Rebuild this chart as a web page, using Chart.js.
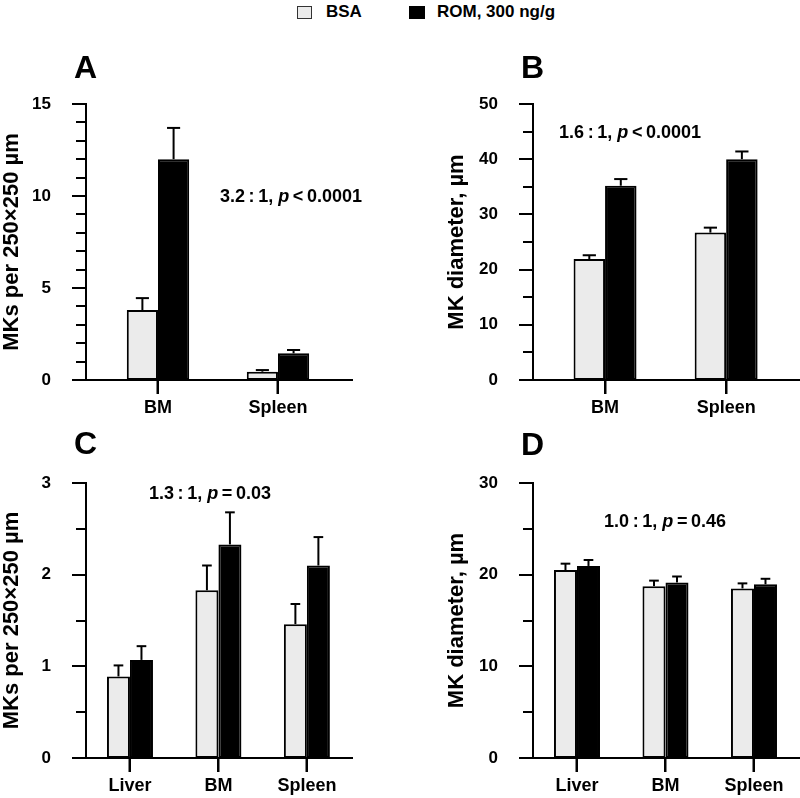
<!DOCTYPE html>
<html lang="en">
<head>
<meta charset="UTF-8" />
<title>Megakaryocyte counts and diameters</title>
<script src="https://cdn.jsdelivr.net/npm/chart.js"></script>
<style>
  body { margin: 0; background: #fff; font-family: "Liberation Sans", Arial, sans-serif; }
  #wrap { position: relative; width: 800px; height: 798px; overflow: hidden; background: #fff; }
  canvas { position: absolute; }
  #cA { left: 0; top: 0; }
  #cB { left: 400px; top: 0; }
  #cC { left: 0; top: 420px; }
  #cD { left: 400px; top: 420px; }
  .legend { position: absolute; top: 2px; height: 20px; display: flex; align-items: center;
            font-weight: bold; font-size: 17px; line-height: 20px; color: #000; }
  .swatch { display: inline-block; width: 15px; height: 13px; margin-right: 14px; box-sizing: border-box; }
</style>
</head>
<body>
<div id="wrap">
  <div class="legend" style="left:297px"><span class="swatch" style="background:#ebebeb;border:1.5px solid #333"></span>BSA</div>
  <div class="legend" style="left:409px"><span class="swatch" style="background:#000;width:16px;margin-right:12px"></span>ROM, 300 ng/g</div>
  <canvas id="cA" width="400" height="420"></canvas>
  <canvas id="cB" width="400" height="420"></canvas>
  <canvas id="cC" width="400" height="378"></canvas>
  <canvas id="cD" width="400" height="378"></canvas>
</div>
<script>
// categories
const catsTop = ["BM", "Spleen"];
const catsBottom = ["Liver", "BM", "Spleen"];

// A: MKs per field
const aBSA = [3.8, 0.45];
const aBSAerr = [0.65, 0.09];
const aROM = [12.0, 1.45];
const aROMerr = [1.7, 0.18];

// B: MK diameter
const bBSA = [21.9, 26.7];
const bBSAerr = [0.7, 0.9];
const bROM = [35.2, 40.0];
const bROMerr = [1.2, 1.4];

// C: MKs per field
const cBSA = [0.89, 1.83, 1.46];
const cBSAerr = [0.12, 0.27, 0.22];
const cROM = [1.07, 2.33, 2.10];
const cROMerr = [0.15, 0.35, 0.31];

// D: MK diameter
const dBSA = [20.5, 18.75, 18.5];
const dBSAerr = [0.7, 0.6, 0.55];
const dROM = [20.95, 19.15, 18.95];
const dROMerr = [0.65, 0.65, 0.6];

const FONT = '"Liberation Sans", Arial, sans-serif';
Chart.defaults.font.family = FONT;
Chart.defaults.color = "#000";

function isMajor(v, major) {
    return Math.abs(v / major - Math.round(v / major)) < 1e-6;
}

function line(ctx, x1, y1, x2, y2) {
    ctx.beginPath();
    ctx.moveTo(x1, y1);
    ctx.lineTo(x2, y2);
    ctx.stroke();
}

function makePanel(id, p) {
    const toPoints = (vals) => vals.map((v, i) => ({ x: i + 1, y: v }));
    const errs = [p.bsaErr, p.romErr];

    // error bars, axis tick marks, panel letter and the ratio / p note
    const extras = {
        id: "extras",
        afterDatasetsDraw(chart) {
            const ctx = chart.ctx;
            const xs = chart.scales.x;
            const ys = chart.scales.y;
            const area = chart.chartArea;
            ctx.save();
            ctx.strokeStyle = "#000";
            ctx.lineWidth = 2;
            chart.data.datasets.forEach((ds, i) => {
                chart.getDatasetMeta(i).data.forEach((bar, j) => {
                    const top = ys.getPixelForValue(ds.data[j].y + errs[i][j]);
                    const half = bar.width * 0.21;
                    line(ctx, bar.x, bar.y, bar.x, top);
                    line(ctx, bar.x - half, top, bar.x + half, top);
                });
            });
            // category tick marks below the x axis
            p.cats.forEach((c, j) => {
                const x = Math.round(xs.getPixelForValue(j + 1));
                line(ctx, x, area.bottom, x, area.bottom + 14);
            });
            // major and minor tick marks left of the y axis
            ys.ticks.forEach((t) => {
                const y = Math.round(ys.getPixelForValue(t.value));
                const len = isMajor(t.value, p.yMajor) ? 14 : 10;
                line(ctx, area.left - len, y, area.left, y);
            });
            ctx.restore();
        },
        afterDraw(chart) {
            const ctx = chart.ctx;
            const xs = chart.scales.x;
            const ys = chart.scales.y;
            const area = chart.chartArea;
            ctx.save();
            ctx.fillStyle = "#000";
            ctx.textBaseline = "alphabetic";
            ctx.textAlign = "left";
            ctx.font = "bold 32px " + FONT;
            ctx.fillText(p.letter, area.left - 12, p.letterY);

            const cx = xs.getPixelForValue(p.noteAt[0]);
            const cy = ys.getPixelForValue(p.noteAt[1]);
            const normal = "bold 18px " + FONT;
            const italic = "italic bold 18px " + FONT;
            const parts = [
                [p.ratio + "\u2009:\u20091, ", normal],
                ["p", italic],
                ["\u2009" + p.op + "\u2009" + p.p, normal],
            ];
            let total = 0;
            parts.forEach((s) => { ctx.font = s[1]; total += ctx.measureText(s[0]).width; });
            let x = cx - total / 2;
            ctx.textBaseline = "middle";
            parts.forEach((s) => {
                ctx.font = s[1];
                ctx.fillText(s[0], x, cy);
                x += ctx.measureText(s[0]).width;
            });
            ctx.restore();
        },
    };

    return new Chart(document.getElementById(id), {
        type: "bar",
        data: {
            datasets: [
                {
                    label: "BSA",
                    data: toPoints(p.bsa),
                    backgroundColor: "#ebebeb",
                    borderColor: "#000",
                    borderWidth: 2,
                    borderSkipped: false,
                },
                {
                    label: "ROM, 300 ng/g",
                    data: toPoints(p.rom),
                    backgroundColor: "#000",
                    borderColor: "#000",
                    borderWidth: 2,
                    borderSkipped: false,
                },
            ],
        },
        options: {
            responsive: false,
            animation: false,
            events: [],
            categoryPercentage: 0.52,
            barPercentage: 1.0,
            layout: { padding: p.pad },
            plugins: {
                legend: { display: false },
                tooltip: { enabled: false },
            },
            scales: {
                x: {
                    type: "linear",
                    min: p.xMin,
                    max: p.xMax,
                    offset: false,
                    afterFit: (s) => { s.height = 40; },
                    grid: {
                        display: true,
                        offset: false,
                        drawOnChartArea: false,
                        drawTicks: true,
                        tickLength: 14,
                        tickWidth: 2,
                        tickColor: "#000",
                        color: "#000",
                    },
                    border: { display: true, color: "#000", width: 2 },
                    ticks: {
                        stepSize: 1,
                        includeBounds: false,
                        autoSkip: false,
                        maxRotation: 0,
                        padding: 3,
                        font: { size: 18, weight: "bold" },
                        callback: (v) => p.cats[v - 1] || "",
                    },
                },
                y: {
                    min: 0,
                    max: p.yMax,
                    afterFit: (s) => { s.width = p.yWidth; },
                    grid: { display: false },
                    border: { display: true, color: "#000", width: 2 },
                    ticks: {
                        stepSize: p.yStep,
                        autoSkip: false,
                        padding: 27,
                        font: { size: 17, weight: "bold" },
                        callback: (v) => (isMajor(v, p.yMajor) ? v : ""),
                    },
                    title: {
                        display: true,
                        text: p.yTitle,
                        padding: { top: p.titlePad, bottom: 0 },
                        font: { size: 22, weight: "bold" },
                    },
                },
            },
        },
        plugins: [extras],
    });
}

makePanel("cA", {
    cats: catsTop, bsa: aBSA, bsaErr: aBSAerr, rom: aROM, romErr: aROMerr,
    xMin: 0.4, xMax: 2.617, yMax: 15, yStep: 1, yMajor: 5,
    yTitle: "MKs per 250\u00d7250 \u00b5m", yWidth: 86, titlePad: -1,
    pad: { top: 104, left: 0, right: 48, bottom: 0 },
    letter: "A", letterY: 78, ratio: "3.2", op: "<", p: "0.0001", noteAt: [2.108, 9.95],
});

makePanel("cB", {
    cats: catsTop, bsa: bBSA, bsaErr: bBSAerr, rom: bROM, romErr: bROMerr,
    xMin: 0.405, xMax: 2.61, yMax: 50, yStep: 5, yMajor: 10,
    yTitle: "MK diameter, \u00b5m", yWidth: 90, titlePad: 1,
    pad: { top: 104, left: 43, right: 0, bottom: 0 },
    letter: "B", letterY: 78, ratio: "1.6", op: "<", p: "0.0001", noteAt: [1.207, 44.7],
});

makePanel("cC", {
    cats: catsBottom, bsa: cBSA, bsaErr: cBSAerr, rom: cROM, romErr: cROMerr,
    xMin: 0.503, xMax: 3.51, yMax: 3, yStep: 0.5, yMajor: 1,
    yTitle: "MKs per 250\u00d7250 \u00b5m", yWidth: 86, titlePad: -1,
    pad: { top: 63, left: 0, right: 48, bottom: 0 },
    letter: "C", letterY: 34, ratio: "1.3", op: "=", p: "0.03", noteAt: [1.904, 2.88],
});

makePanel("cD", {
    cats: catsBottom, bsa: dBSA, bsaErr: dBSAerr, rom: dROM, romErr: dROMerr,
    xMin: 0.503, xMax: 3.52, yMax: 30, yStep: 5, yMajor: 10,
    yTitle: "MK diameter, \u00b5m", yWidth: 90, titlePad: 1,
    pad: { top: 63, left: 43, right: 0, bottom: 0 },
    letter: "D", letterY: 35, ratio: "1.0", op: "=", p: "0.46", noteAt: [1.995, 25.7],
});
</script>
</body>
</html>
